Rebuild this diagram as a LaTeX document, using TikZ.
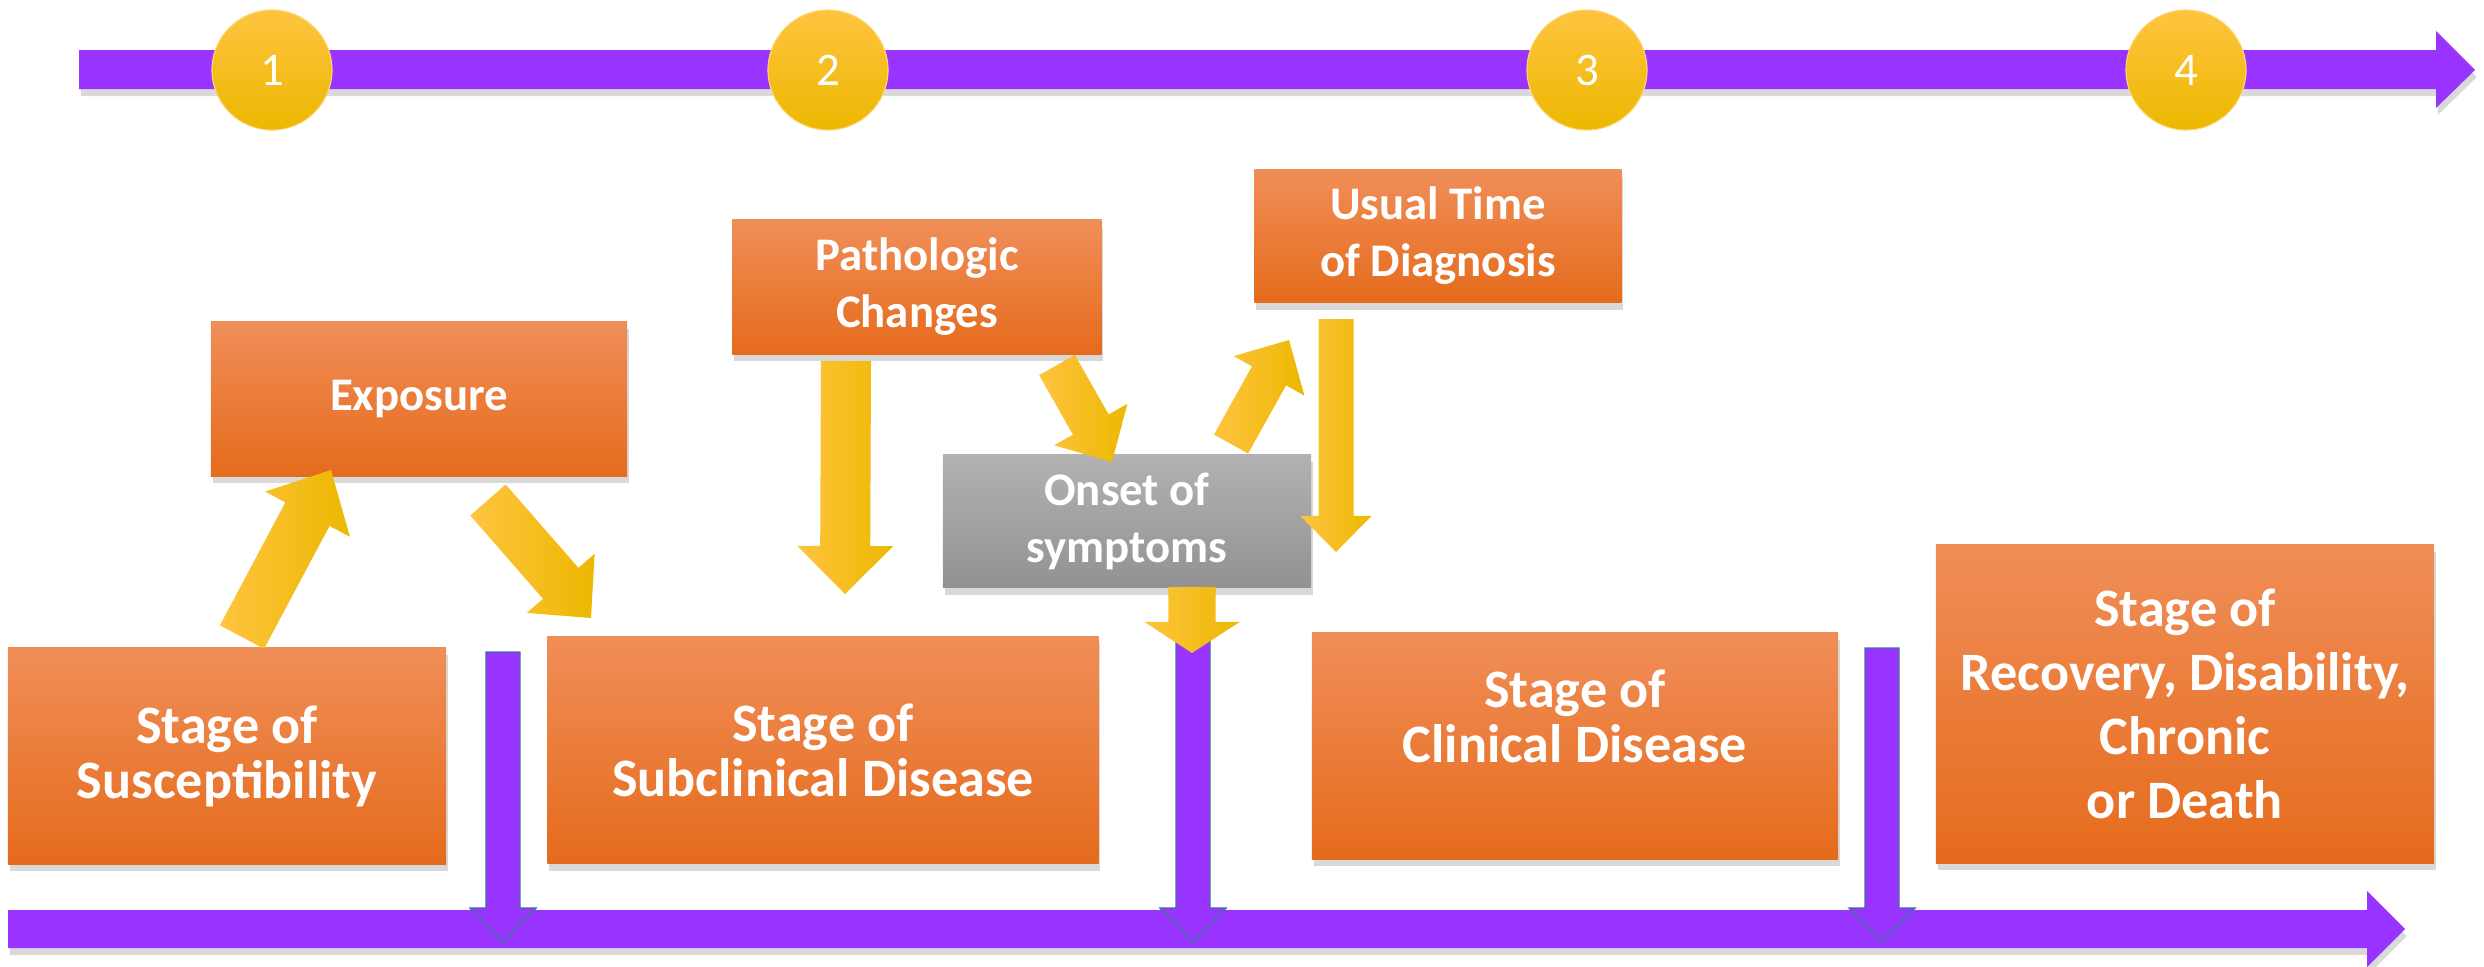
\documentclass[tikz,border=0pt]{standalone}
\usepackage{fontspec}
\setmainfont{Carlito}
\usetikzlibrary{calc,shadows}

\definecolor{tlpurple}{RGB}{153,51,255}
\definecolor{tledge}{RGB}{65,113,156}
\definecolor{ortop}{RGB}{240,142,88}
\definecolor{ormid}{RGB}{243,124,42}
\definecolor{orbot}{RGB}{229,107,28}
\definecolor{grtop}{RGB}{178,178,178}
\definecolor{grmid}{RGB}{162,162,162}
\definecolor{grbot}{RGB}{146,146,146}
\definecolor{gdtop}{RGB}{255,196,64}
\definecolor{gdmid}{RGB}{255,198,0}
\definecolor{gdbot}{RGB}{236,184,0}

% style, tail, tip, half shaft, half head, head length
\newcommand{\blockarrow}[6]{%
  \coordinate (ba) at ($(#3)!#6!(#2)$);
  \path[#1] ($(#2)!#4!90:(#3)$) -- ($(ba)!#4!90:(#3)$) -- ($(ba)!#5!90:(#3)$) -- (#3)
    -- ($(ba)!#5!-90:(#3)$) -- ($(ba)!#4!-90:(#3)$) -- ($(#2)!#4!-90:(#3)$) -- cycle;
}

\begin{document}
\begin{tikzpicture}[x=0.01cm,y=-0.01cm,
    boxshadow/.style={drop shadow={shadow xshift=0.5pt,shadow yshift=-2pt,opacity=0.3}},
    boxtext/.style={inner sep=0pt,align=center,text=white,font=\fontsize{13.3}{16.2}\selectfont\bfseries},
    box/.style={boxtext,boxshadow,top color=ortop,middle color=ormid,bottom color=orbot},
    stagetext/.style={boxtext,font=\fontsize{15.4}{15.6}\selectfont\bfseries},
    stage/.style={box,stagetext},
    greybox/.style={box,top color=grtop,middle color=grmid,bottom color=grbot},
    circ/.style={circle,minimum size=1.2cm,inner sep=0pt,draw=gdtop!70!white,line width=0.3pt,
        top color=gdtop,middle color=gdmid,bottom color=gdbot,text=white,font=\fontsize{13.3}{16}\selectfont},
    yarrow/.style={left color=gdtop,right color=gdbot},
    parrow/.style={fill=tlpurple,draw=tledge,line width=0.4pt}]

    \useasboundingbox (0,0) rectangle (2484,966);

    %timeline
    \fill[tlpurple,boxshadow] (79,50) -- (2436,50) -- (2436,31) -- (2475,70) -- (2436,108) -- (2436,89) -- (79,89) -- cycle;
    \foreach \x/\n in {272/1,828/2,1587/3,2186/4}
        \node[circ] (c\n) at (\x,70) {\n};

    \fill[tlpurple,boxshadow] (8,910) -- (2367,910) -- (2367,891) -- (2405,929) -- (2367,967) -- (2367,948) -- (8,948) -- cycle;
    \foreach \x/\t/\i in {503/652/1,1193/620/2,1882/648/3} {
        \coordinate (pt\i) at (\x,\t);
        \coordinate (pb\i) at (\x,942);
        \blockarrow{parrow}{pt\i}{pb\i}{0.17cm}{0.33cm}{0.34cm}
    }

    %boxes
    \node[box,minimum width=4.16cm,minimum height=1.54cm] (expo) at (419,399) {Exposure};
    \node[box,minimum width=3.69cm,minimum height=1.34cm] (patho) at (917,287) {Pathologic\\Changes};
    \node[box,minimum width=3.67cm,minimum height=1.33cm] (usual) at (1438,236) {Usual Time\\of Diagnosis};
    \node[greybox,minimum width=3.68cm,minimum height=1.33cm] (onset) at (1127,521) {Onset of\\symptoms};
    \node[stage,minimum width=4.38cm,minimum height=2.16cm] (suscep) at (227,756) {Stage of\\Susceptibility};
    \node[stage,minimum width=5.51cm,minimum height=2.27cm] (subclin) at (823,750) {Stage of\\Subclinical Disease};
    \node[stage,minimum width=5.26cm,minimum height=2.26cm] (clin) at (1575,746) {};
    \node[stagetext] (clintext) at (1575,716) {Stage of\\Clinical Disease};
    \node[stage,minimum width=4.98cm,minimum height=3.18cm,font=\fontsize{15.4}{18.2}\selectfont\bfseries] (recov) at (2185,704)
        {Stage of\\Recovery, Disability,\\Chronic\\or Death};

    %yellow arrows
    \coordinate (su-out) at (242,637);  \coordinate (ex-in) at (331,470);
    \coordinate (ex-out) at (488,500);  \coordinate (sc-in) at (591,618);
    \coordinate (pa-out) at (846,361);  \coordinate (sc-in2) at (845,594);
    \coordinate (pa-out2) at (1057,365); \coordinate (on-in) at (1112,462);
    \coordinate (on-out) at (1231,444); \coordinate (us-in) at (1289,340);
    \coordinate (us-out) at (1336,319); \coordinate (cl-in) at (1336,552);
    \coordinate (on-out2) at (1192,587); \coordinate (pt-in) at (1192,653);
    \foreach \s/\e/\w/\h/\l in {su-out/ex-in/0.25/0.48/0.50, ex-out/sc-in/0.235/0.45/0.46,
        pa-out/sc-in2/0.25/0.48/0.48, pa-out2/on-in/0.205/0.42/0.43, on-out/us-in/0.195/0.405/0.41,
        us-out/cl-in/0.175/0.355/0.36, on-out2/pt-in/0.235/0.475/0.31} {
        \blockarrow{yarrow}{\s}{\e}{\w cm}{\h cm}{\l cm}
    }

\end{tikzpicture}
\end{document}
